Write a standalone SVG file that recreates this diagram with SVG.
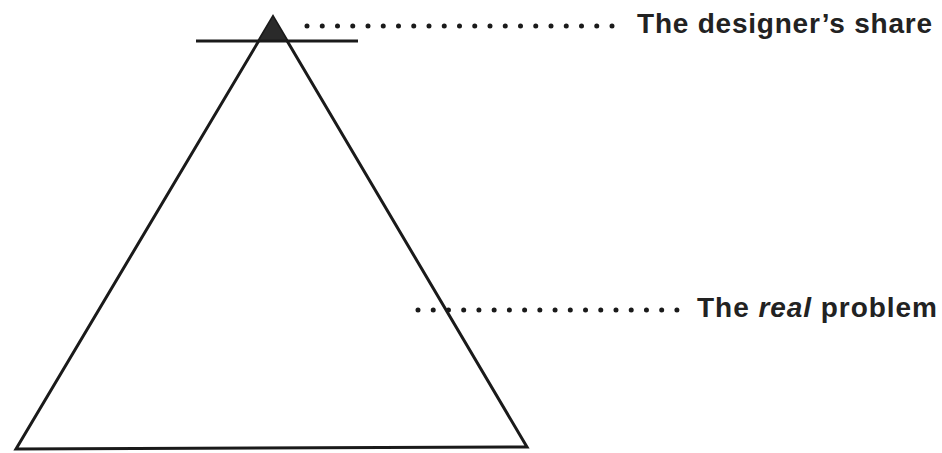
<svg xmlns="http://www.w3.org/2000/svg" width="942" height="453" viewBox="0 0 942 453">
  <style>
    .edge { fill: none; stroke: #1a1a1a; stroke-width: 3; stroke-linejoin: miter; }
    .dots { fill: none; stroke: #1a1a1a; stroke-width: 5; stroke-linecap: round; stroke-dasharray: 0 15.25; }
    .label { font-family: "Liberation Sans", Arial, sans-serif; font-size: 28px; font-weight: bold; fill: #222222; }
  </style>
  <rect width="942" height="453" fill="#ffffff"/>
  <g id="pyramid">
    <polygon class="edge" points="273,17 527,447 16,449"/>
  </g>
  <g id="designers-share">
    <polygon points="273,17 287,41 259,41" fill="#2a2a2a"/>
    <line class="edge" x1="196" y1="41" x2="358" y2="41"/>
  </g>
  <g id="connectors">
    <line class="dots" x1="307" y1="26" x2="613" y2="26"/>
    <line class="dots" x1="418" y1="310" x2="677" y2="310" style="stroke-dasharray: 0 15.23"/>
  </g>
  <g id="label-share">
    <text class="label" x="637" y="33" textLength="295" lengthAdjust="spacing">The designer’s share</text>
  </g>
  <g id="label-real">
    <text class="label" x="697" y="317" textLength="240" lengthAdjust="spacing">The <tspan font-style="italic">real</tspan> problem</text>
  </g>
</svg>
